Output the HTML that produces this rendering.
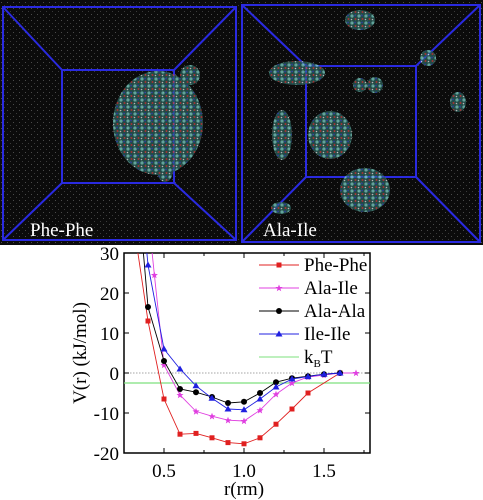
<!DOCTYPE html>
<html><head><meta charset="utf-8"><style>
body{margin:0;background:#fff;width:483px;height:500px;overflow:hidden}
svg{display:block;font-family:"Liberation Serif",serif}
</style></head><body>
<svg width="483" height="500">
<defs>
<pattern id="noise" width="6" height="6" patternUnits="userSpaceOnUse"><rect width="6" height="6" fill="#0b0b0b"/><rect x="1" y="2" width="1" height="1" fill="#4a4a4a"/><rect x="4" y="5" width="1" height="1" fill="#3a3a3a"/></pattern>
<pattern id="mol" width="7" height="7" patternUnits="userSpaceOnUse"><rect width="7" height="7" fill="#2a5f5a"/><circle cx="2" cy="2" r="1.6" fill="#7fd8cc"/><circle cx="5.5" cy="5" r="1" fill="#d84040"/><circle cx="5" cy="1.5" r="0.9" fill="#3a4fd0"/><circle cx="1.5" cy="5.5" r="0.8" fill="#eeeeee"/></pattern>
</defs>
<g>
<rect x="0" y="0" width="483" height="245" fill="url(#noise)"/>
<g fill="none" stroke="#2a2ae0" stroke-width="2">
<rect x="3" y="7" width="233" height="233"/><rect x="62" y="70" width="112" height="113"/>
<path d="M3 7L62 70M236 7L174 70M3 240L62 183M236 240L174 183"/>
</g>
<g fill="none" stroke="#2a2ae0" stroke-width="2">
<rect x="242" y="5" width="238" height="237"/><rect x="306" y="66" width="110" height="111"/>
<path d="M242 5L306 66M480 5L416 66M242 242L306 177M480 242L416 177"/>
</g>
<g fill="url(#mol)" opacity="0.75">
<ellipse cx="158" cy="123" rx="45" ry="52"/><ellipse cx="190" cy="75" rx="10" ry="10"/><ellipse cx="165" cy="170" rx="8" ry="12"/>
<ellipse cx="297" cy="73" rx="28" ry="12"/><ellipse cx="360" cy="20" rx="15" ry="10"/><ellipse cx="330" cy="135" rx="22" ry="24"/>
<ellipse cx="282" cy="135" rx="10" ry="25"/><ellipse cx="365" cy="190" rx="25" ry="22"/><ellipse cx="281" cy="208" rx="10" ry="6"/>
<ellipse cx="428" cy="58" rx="8" ry="8"/><ellipse cx="458" cy="102" rx="8" ry="10"/><ellipse cx="375" cy="85" rx="8" ry="8"/><ellipse cx="360" cy="85" rx="7" ry="7"/>
</g>
<text x="30" y="236" fill="#fff" font-size="19">Phe-Phe</text>
<text x="263" y="236" fill="#fff" font-size="19">Ala-Ile</text>
</g>
<g id="chart"></g>
</svg>
<script>
const rPhe=[0.3,0.4,0.5,0.6,0.7,0.8,0.9,1.0,1.1,1.2,1.3,1.4,1.6];
const vPhe=[40,13,-6.5,-15.3,-15.1,-16.2,-17.4,-17.7,-16.2,-12.8,-9,-5,0];
const rAI=[0.4,0.44,0.5,0.6,0.7,0.8,0.9,1.0,1.1,1.2,1.3,1.4,1.5,1.6,1.7];
const vAI=[40,24.5,2,-5.5,-9.6,-10.8,-11.8,-12,-9.3,-5.3,-2.5,-1,-0.5,0,0];
const rAA=[0.35,0.4,0.5,0.6,0.7,0.8,0.9,1.0,1.1,1.2,1.3,1.4,1.5,1.6];
const vAA=[40,16.5,3,-4,-4.8,-6,-7.5,-7.2,-5,-2.3,-1.3,-0.8,-0.3,0];
const rII=[0.37,0.4,0.5,0.6,0.7,0.8,0.9,1.0,1.1,1.2,1.3,1.4,1.5,1.6];
const vII=[40,27,6,1,-3.2,-6.3,-9,-9.2,-6.5,-3.5,-1.5,-0.9,-0.3,0];
const kBT=-2.5;
const xTicks=[0.5,1.0,1.5];
const yTicks=[30,20,10,0,-10,-20];
const seriesNames=["Phe-Phe","Ala-Ile","Ala-Ala","Ile-Ile"];
const NS="http://www.w3.org/2000/svg";
const L=124,R=370,T=253,B=453,x0=0.25,x1=1.7875,y0=-20,y1=30;
const X=r=>L+(r-x0)/(x1-x0)*(R-L);
const Y=v=>B-(v-y0)/(y1-y0)*(B-T);
const g=document.getElementById('chart');
function mk(tag,attrs,parent){const e=document.createElementNS(NS,tag);for(const k in attrs)e.setAttribute(k,attrs[k]);(parent||g).appendChild(e);return e;}
const cp=mk('clipPath',{id:'cp'});mk('rect',{x:L,y:T,width:R-L,height:B-T},cp);
let e=mk('rect',{x:L,y:T,width:R-L,height:B-T,fill:'none',stroke:'#000','stroke-width':1.5});


e=mk('line',{x1:L,x2:R,y1:Y(0),y2:Y(0),stroke:'#888','stroke-width':0.8,'stroke-dasharray':'1.5 1.5'});


e=mk('line',{x1:L,x2:R,y1:Y(kBT),y2:Y(kBT),stroke:'#7de07d','stroke-width':1.2});


yTicks.forEach(v=>{
 mk('line',{x1:L,x2:L+5,y1:Y(v),y2:Y(v),stroke:'#000'});mk('line',{x1:R,x2:R-5,y1:Y(v),y2:Y(v),stroke:'#000'});
 const t=mk('text',{x:L-5,y:Y(v)+7,'text-anchor':'end','font-size':19});t.textContent=v;
 
 
});
[0.25,0.75,1.25,1.75].concat(xTicks).forEach(r=>{mk('line',{x1:X(r),x2:X(r),y1:B,y2:B-(xTicks.includes(r)?5:3),stroke:'#000'});mk('line',{x1:X(r),x2:X(r),y1:T,y2:T+(xTicks.includes(r)?5:3),stroke:'#000'});});
xTicks.forEach(r=>{const t=mk('text',{x:X(r),y:B+24,'text-anchor':'middle','font-size':19});t.textContent=r.toFixed(1);
 
 });
let t=mk('text',{x:X(1.0),y:495,'text-anchor':'middle','font-size':19});t.textContent='r(rm)';


t=mk('text',{x:0,y:0,'text-anchor':'middle','font-size':19,transform:'translate(86,353) rotate(-90)'});t.textContent='V(r) (kJ/mol)';


const sets=[[rPhe,vPhe,'#e02020','sq'],[rAI,vAI,'#e040e0','star'],[rAA,vAA,'#000','ci'],[rII,vII,'#2020e0','tri']];
function marker(par,m,x,y,c){
 if(m==='sq')return mk('rect',{x:x-2.5,y:y-2.5,width:5,height:5,fill:c},par);
 if(m==='ci')return mk('circle',{cx:x,cy:y,r:3,fill:c},par);
 if(m==='tri')return mk('path',{d:`M${x} ${y-3.5}L${x+3.5} ${y+2.5}L${x-3.5} ${y+2.5}Z`,fill:c},par);
 return mk('path',{d:`M${x} ${y-3.5}L${x+1} ${y-1}L${x+3.5} ${y-1}L${x+1.5} ${y+0.8}L${x+2.2} ${y+3.3}L${x} ${y+1.8}L${x-2.2} ${y+3.3}L${x-1.5} ${y+0.8}L${x-3.5} ${y-1}L${x-1} ${y-1}Z`,fill:c},par);
}
sets.forEach((s,i)=>{
 const sg=mk('g',{'clip-path':'url(#cp)'});
 
 
 mk('polyline',{points:s[0].map((r,j)=>X(r)+','+Y(s[1][j])).join(' '),fill:'none',stroke:s[2],'stroke-width':0.9},sg);
 s[0].forEach((r,j)=>{const p=marker(sg,s[3],X(r),Y(s[1][j]),s[2]);
  
  });
});
const legY=[265,288,311,334,357];
const legC=['#e02020','#e040e0','#000','#2020e0','#7de07d'];
const legM=['sq','star','ci','tri',null];
legY.forEach((y,i)=>{
 const lg=mk('g',{});
 
 
 mk('line',{x1:259,x2:299,y1:y,y2:y,stroke:legC[i],'stroke-width':1},lg);
 if(legM[i])marker(lg,legM[i],279,y,legC[i]);
 const tx=mk('text',{x:304,y:y+6,'font-size':19},lg);
 if(i<4)tx.textContent=seriesNames[i];
 else{tx.textContent='k';const sb=mk('tspan',{'font-size':11,dy:4},tx);sb.textContent='B';const t2=mk('tspan',{dy:-4},tx);t2.textContent='T';}
});
</script>
</body></html>
